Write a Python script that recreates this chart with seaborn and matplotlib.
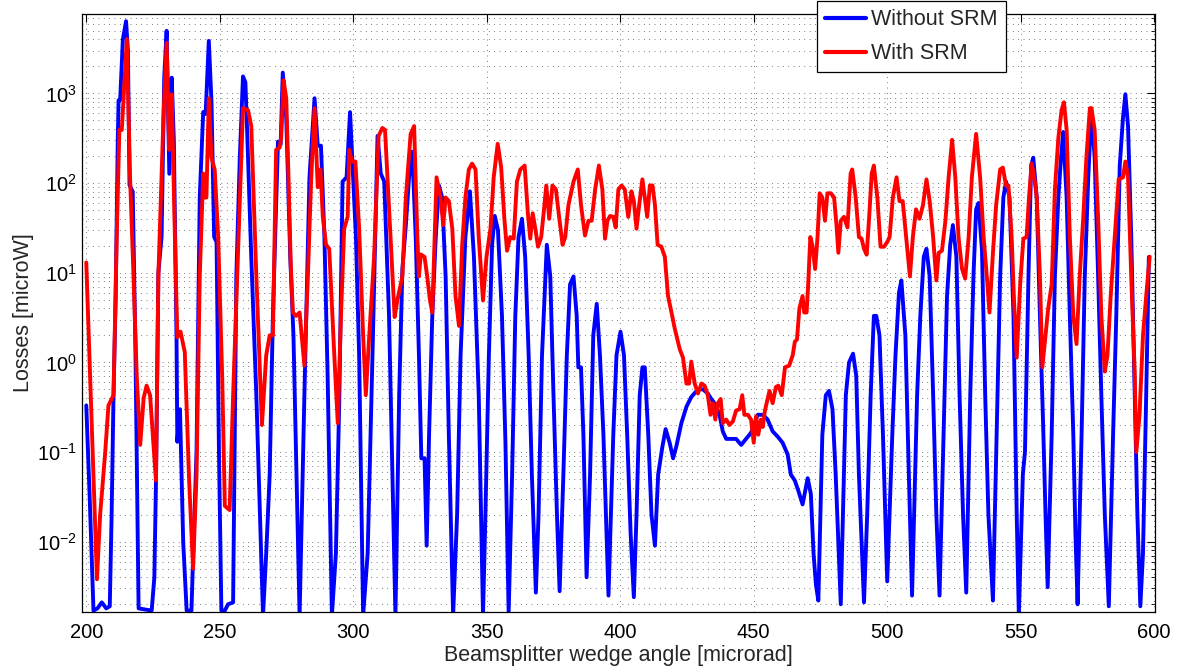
import numpy as np
import pandas as pd
import matplotlib
matplotlib.use("Agg")
import matplotlib.pyplot as plt
import seaborn as sns
from matplotlib.ticker import FixedLocator, NullFormatter, LogFormatterSciNotation
from matplotlib.lines import Line2D

# ---------------- data ----------------
blue_x = [200.0, 201.3, 202.7, 204.2, 205.8, 207.5, 208.8, 209.5, 210.2, 211.0, 211.8, 212.1, 212.7, 213.7,
          214.9, 215.6, 216.2, 217.4, 218.4, 219.0, 219.6, 224.5, 225.5, 226.1, 227.0, 228.2, 229.2, 230.1,
          231.1, 232.0, 232.8, 233.8, 234.1, 235.1, 236.3, 237.6, 239.4, 240.05, 241.3, 242.5, 243.8, 244.7,
          245.9, 246.9, 247.9, 248.8, 249.7, 250.6, 251.9, 253.1, 255.0, 256.2, 257.5, 258.7, 259.6, 260.3,
          261.8, 263.7, 266.2, 267.4, 268.7, 269.9, 271.8, 272.8, 273.6, 274.9, 276.4, 277.6, 279.9, 281.7,
          283.6, 285.5, 286.7, 287.9, 289.2, 290.4, 292.0, 293.5, 294.8, 296.0, 297.5, 298.8, 299.8, 301.0,
          302.2, 303.7, 305.4, 307.2, 309.1, 310.3, 311.6, 313.4, 315.8, 317.2, 318.4, 319.7, 320.9, 322.1,
          323.4, 324.6, 325.5, 326.7, 327.5, 328.4, 329.6, 330.9, 332.1, 333.3, 334.6, 335.8, 337.4, 338.9,
          340.2, 342.0, 343.7, 345.2, 347.0, 348.6, 349.5, 350.8, 352.0, 353.0, 354.2, 355.7, 357.0, 358.2,
          359.5, 360.7, 361.9, 363.2, 364.4, 365.7, 366.9, 368.4, 369.4, 370.7, 372.5, 373.8, 375.0, 376.3,
          377.3, 378.7, 380.0, 381.2, 382.5, 383.7, 384.3, 385.3, 386.2, 387.4, 388.7, 389.9, 391.2, 392.4,
          393.7, 395.6, 397.4, 398.6, 400.1, 401.4, 402.6, 403.9, 405.1, 406.1, 407.3, 408.3, 409.2, 410.5,
          411.7, 413.0, 414.2, 415.8, 417.0, 418.5, 419.8, 421.0, 422.9, 424.8, 426.6, 429.1, 431.0, 432.8,
          434.1, 435.3, 437.2, 438.4, 439.7, 441.5, 443.4, 445.3, 447.1, 449.0, 451.5, 453.4, 455.2, 457.1,
          459.0, 460.8, 462.7, 463.9, 465.4, 466.7, 468.3, 470.2, 471.4, 472.4, 473.3, 474.2, 475.7, 477.0,
          478.2, 479.5, 480.7, 482.6, 483.8, 484.5, 485.7, 487.2, 488.4, 489.4, 491.3, 492.5, 493.8, 495.0,
          495.9, 497.1, 498.4, 500.0, 501.9, 503.1, 504.4, 505.3, 506.8, 508.1, 509.3, 511.2, 512.4, 513.7,
          514.7, 515.9, 517.2, 518.4, 519.6, 521.1, 522.4, 523.6, 524.6, 525.9, 527.1, 528.4, 529.6, 531.1,
          532.3, 533.3, 534.2, 535.5, 536.7, 537.9, 539.6, 541.0, 542.3, 543.5, 544.5, 545.8, 547.3, 548.5,
          549.3, 550.8, 551.6, 552.9, 553.9, 554.7, 556.0, 557.2, 558.5, 559.3, 560.1, 561.6, 562.8, 564.1,
          565.1, 565.9, 567.2, 568.4, 569.7, 570.5, 571.3, 572.8, 574.0, 575.3, 576.5, 577.7, 579.0, 580.2,
          581.5, 583.0, 584.6, 585.8, 587.1, 588.3, 589.2, 590.2, 591.4, 592.7, 593.7, 594.8, 595.8, 597.0,
          598.0]
blue_y = [0.33, 0.03, 0.0017, 0.0018, 0.0021, 0.0018, 0.0019, 0.02, 0.43, 5, 300, 840, 850, 4000,
          6400, 3000, 95, 80, 1.5, 0.05, 0.0018, 0.0017, 0.004, 0.045, 10, 25, 1500, 5000,
          127, 1500, 300, 1.9, 0.13, 0.3, 0.01, 0.0017, 0.0017, 0.0074, 0.1, 69, 620, 590,
          3860, 800, 25, 22, 0.1, 0.0017, 0.0017, 0.0020, 0.0021, 9, 190, 1550, 1330, 350,
          15, 0.43, 0.0015, 0.0074, 0.056, 3.3, 290, 270, 1710, 531, 15, 2.0, 0.0015, 0.43,
          116, 884, 261, 261, 25, 0.71, 0.0015, 0.0074, 0.43, 104, 116, 619, 142, 25,
          1.2, 0.0015, 0.0074, 1.2, 336, 128, 104, 3.3, 0.0015, 0.43, 11, 34, 116, 224,
          25, 1.2, 0.085, 0.085, 0.009, 0.156, 3.3, 25, 94, 69, 9.1, 0.156, 0.0015, 0.02,
          1.2, 25, 81, 15, 0.43, 0.0015, 0.02, 1.2, 20.5, 43, 30, 3.3, 0.13, 0.0016,
          0.056, 3.3, 25, 40, 15, 1.2, 0.056, 0.0027, 0.02, 1.2, 20.5, 9.1, 0.43, 0.02,
          0.0028, 0.056, 1.2, 7.4, 9.1, 3.3, 0.88, 0.88, 0.156, 0.004, 0.056, 2.0, 4.5, 1.2,
          0.156, 0.0025, 0.156, 1.2, 2.2, 1.2, 0.156, 0.0122, 0.0024, 0.02, 0.43, 0.88, 0.88, 0.156,
          0.02, 0.009, 0.056, 0.115, 0.18, 0.127, 0.085, 0.115, 0.21, 0.32, 0.41, 0.50, 0.50, 0.45,
          0.39, 0.35, 0.26, 0.17, 0.14, 0.14, 0.14, 0.12, 0.14, 0.164, 0.26, 0.26, 0.23, 0.17,
          0.148, 0.127, 0.094, 0.056, 0.048, 0.037, 0.026, 0.051, 0.034, 0.0074, 0.0033, 0.0022, 0.156, 0.43,
          0.48, 0.30, 0.056, 0.002, 0.056, 0.43, 1.0, 1.25, 0.71, 0.056, 0.0021, 0.02, 0.43, 3.3,
          3.3, 2.0, 0.156, 0.0036, 0.156, 1.2, 6.0, 8.2, 2.0, 0.056, 0.0025, 0.43, 3.3, 15.1,
          18.5, 9.1, 0.43, 0.02, 0.0025, 0.156, 5.5, 20.5, 34, 15.1, 0.43, 0.02, 0.0027, 0.43,
          9.1, 51, 60, 17.6, 0.43, 0.02, 0.0022, 0.156, 9.1, 69, 104, 69, 3.3, 0.02,
          0.0015, 0.056, 0.1, 9.1, 157, 192, 69, 3.3, 0.156, 0.02, 0.0031, 0.156, 9.1, 69,
          192, 372, 69, 3.3, 0.156, 0.0122, 0.002, 0.156, 9.1, 116, 651, 192, 9.1, 0.43,
          0.02, 0.0019, 0.156, 3.3, 157, 531, 980, 433, 25, 0.43, 0.02, 0.0019, 0.0074, 0.43,
          15]

red_x = [200.0, 204.0, 205.2, 207.1, 208.3, 210.2, 211.4, 212.4, 213.3, 215.2, 216.4, 217.7, 218.9, 220.2,
         221.5, 222.6, 223.9, 226.1, 227.0, 228.9, 230.1, 231.1, 232.0, 233.2, 234.1, 235.3, 236.9, 238.5,
         240.0, 241.3, 242.5, 243.8, 244.4, 245.0, 245.9, 246.9, 248.1, 249.4, 250.9, 251.9, 253.7, 255.0,
         256.8, 258.7, 260.6, 261.8, 263.7, 265.8, 267.4, 268.7, 269.9, 271.1, 272.4, 273.0, 273.9, 274.9,
         275.8, 276.6, 277.4, 278.6, 279.9, 281.7, 283.0, 284.2, 285.5, 286.7, 287.7, 288.6, 289.8, 291.0,
         292.9, 294.2, 295.4, 296.6, 297.9, 298.5, 299.5, 300.8, 302.2, 303.7, 304.7, 306.0, 307.8, 309.5,
         310.9, 311.9, 313.2, 314.7, 315.5, 316.5, 318.4, 319.7, 321.5, 322.8, 324.0, 324.6, 325.3, 326.7,
         327.7, 328.7, 329.6, 330.5, 331.2, 332.7, 333.7, 334.6, 335.8, 337.1, 338.3, 339.6, 340.8, 342.0,
         343.3, 344.5, 345.8, 347.0, 348.6, 349.9, 351.4, 352.6, 354.1, 355.4, 356.6, 357.6, 358.8, 360.1,
         361.3, 362.6, 364.2, 365.4, 366.3, 367.2, 368.2, 369.2, 370.4, 371.3, 372.3, 373.4, 374.6, 375.9,
         377.1, 378.4, 379.4, 380.6, 382.5, 384.1, 385.3, 386.8, 388.1, 389.3, 390.6, 392.0, 393.3, 394.3,
         395.2, 396.2, 397.4, 398.3, 399.3, 400.5, 401.7, 403.0, 404.2, 405.1, 406.1, 407.1, 408.3, 409.2,
         410.1, 411.1, 412.1, 413.0, 414.0, 415.4, 416.7, 417.9, 419.2, 420.4, 422.3, 423.5, 424.8, 425.8,
         426.6, 427.9, 429.1, 430.4, 431.6, 432.8, 433.8, 434.7, 435.6, 436.6, 437.6, 438.4, 439.7, 440.9,
         442.2, 443.4, 444.7, 445.7, 446.5, 447.8, 449.0, 450.0, 450.9, 451.7, 452.7, 453.4, 454.2, 455.9,
         457.1, 458.3, 459.2, 460.5, 461.7, 463.3, 464.6, 465.4, 466.2, 467.1, 468.3, 468.9, 469.8, 470.4,
         471.2, 472.0, 473.0, 473.9, 474.7, 475.7, 476.7, 477.6, 478.9, 480.1, 481.0, 481.7, 482.6, 483.8,
         485.1, 486.3, 486.9, 488.2, 489.4, 490.4, 491.3, 492.3, 493.2, 494.2, 495.0, 496.3, 497.5, 498.8,
         500.0, 500.9, 502.1, 503.5, 504.6, 505.8, 507.1, 508.5, 509.6, 510.8, 512.1, 513.4, 514.7, 515.9,
         517.2, 518.4, 519.3, 520.5, 521.8, 523.0, 524.3, 525.5, 526.7, 528.0, 529.2, 530.5, 531.7, 533.3,
         534.8, 536.1, 537.3, 538.3, 539.6, 540.8, 542.3, 543.3, 544.5, 545.4, 546.6, 547.5, 548.5, 549.8,
         551.0, 552.2, 553.1, 554.1, 555.1, 556.0, 557.2, 558.1, 559.3, 560.3, 561.6, 562.8, 564.1, 565.3,
         566.2, 567.2, 568.4, 569.7, 570.9, 572.1, 573.4, 574.6, 575.9, 576.5, 577.7, 579.0, 580.2, 581.5,
         582.5, 583.7, 585.2, 586.7, 588.3, 589.2, 590.2, 591.4, 592.7, 593.3, 594.5, 595.8, 597.0, 598.3]
red_y = [13, 0.0038, 0.02, 0.1, 0.33, 0.43, 25, 392, 392, 4060, 116, 9.1, 0.71, 0.12,
         0.4, 0.55, 0.43, 0.048, 9.1, 531, 3670, 235, 980, 25, 1.9, 2.2, 1.3, 0.05,
         0.005, 0.056, 9.1, 128, 69, 69, 884, 192, 142, 25, 0.71, 0.025, 0.0225, 0.43,
         15.1, 685, 651, 433, 9.1, 0.20, 1.2, 2.0, 2.0, 235, 248, 319, 1400, 884,
         100, 12, 3.6, 3.3, 3.6, 0.92, 9.1, 104, 685, 90, 142, 42, 20.5, 18.5,
         1.2, 0.21, 3.3, 31, 42, 235, 174, 174, 31, 2.0, 0.43, 2.0, 15, 336,
         412, 392, 69, 9.1, 3.2, 4.9, 9.1, 69, 354, 433, 25, 9.1, 16, 15,
         9.1, 5, 3.6, 25, 116, 69, 34, 69, 63, 31, 5.5, 2.55, 20.5, 69,
         142, 165, 142, 25, 4.9, 15, 31, 116, 274, 150, 40, 17.6, 25, 24,
         104, 142, 157, 46, 24, 46, 31, 19.5, 25, 46, 94, 40, 94, 85,
         42, 20.5, 25, 57, 104, 142, 57, 26, 38, 38, 85, 157, 85, 24,
         38, 43, 42, 32, 85, 94, 85, 42, 81, 63, 31, 57, 110, 69,
         42, 94, 94, 57, 20.5, 19.5, 15.1, 5.5, 3.6, 2.4, 1.4, 1.13, 0.58, 0.58,
         1.02, 0.58, 0.45, 0.58, 0.55, 0.43, 0.26, 0.35, 0.23, 0.35, 0.39, 0.21, 0.23, 0.20,
         0.22, 0.29, 0.30, 0.43, 0.26, 0.26, 0.23, 0.127, 0.25, 0.156, 0.23, 0.19, 0.29, 0.48,
         0.35, 0.53, 0.55, 0.43, 0.88, 0.92, 1.2, 1.7, 1.8, 4.0, 5.5, 3.6, 3.6, 7.4,
         25, 20, 11, 25, 77, 69, 38, 77, 77, 69, 34, 16.7, 38, 42,
         32, 128, 142, 69, 25, 24, 18.5, 15.9, 40, 128, 157, 69, 19.5, 19.5,
         22, 25, 69, 116, 63, 63, 25, 9.1, 25, 51, 40, 57, 110, 63,
         25, 8.2, 16.7, 17.6, 38, 116, 304, 116, 25, 11.1, 8.6, 25, 116, 354,
         116, 25, 9.1, 3.6, 16.7, 57, 142, 149, 94, 94, 25, 4.9, 1.13, 7.4,
         24, 25, 69, 165, 116, 69, 9.1, 0.88, 2.0, 4.0, 7.4, 85, 319, 651,
         798, 392, 25, 3.3, 1.6, 9.1, 40, 192, 685, 685, 392, 40, 3.3, 0.79,
         1.2, 5.5, 25, 110, 116, 174, 116, 9.1, 0.75, 0.10, 0.26, 2.0, 5.5, 15.1]

series_names = ["Without SRM", "With SRM"]
x_ticks = [200, 250, 300, 350, 400, 450, 500, 550, 600]
y_decades = [1e-2, 1e-1, 1e0, 1e1, 1e2, 1e3]
x_label = "Beamsplitter wedge angle [microrad]"
y_label = "Losses [microW]"

# ---------------- styling ----------------
sns.set_style("white")
plt.rcParams['font.family'] = ['Liberation Sans', 'DejaVu Sans']
plt.rcParams['mathtext.fontset'] = 'custom'
plt.rcParams['mathtext.rm'] = 'Liberation Sans'
plt.rcParams['mathtext.it'] = 'Liberation Sans'
plt.rcParams['mathtext.default'] = 'regular'

df = pd.concat([
    pd.DataFrame({"angle": blue_x, "loss": blue_y, "series": series_names[0]}),
    pd.DataFrame({"angle": red_x, "loss": red_y, "series": series_names[1]}),
], ignore_index=True)

fig = plt.figure(figsize=(11.84, 6.71), dpi=100)
ax = fig.add_axes([82 / 1184, 1 - 612 / 671, (1155 - 82) / 1184, (612 - 14) / 671])

palette = {series_names[0]: "#0000ff", series_names[1]: "#ff0000"}
sns.lineplot(data=df, x="angle", y="loss", hue="series", palette=palette,
             estimator=None, sort=False, linewidth=2.8, ax=ax, legend=False)
for ln in ax.get_lines():
    ln.set_solid_joinstyle("round")

ax.set_yscale("log")
ax.set_xlim(198.4, 600.3)
ax.set_ylim(0.00164, 7700)

ax.xaxis.set_major_locator(FixedLocator(x_ticks))
ax.yaxis.set_major_locator(FixedLocator(y_decades))
ax.yaxis.set_major_formatter(LogFormatterSciNotation())
minor_vals = [m * d for d in [1e-3, 1e-2, 1e-1, 1e0, 1e1, 1e2, 1e3] for m in range(2, 10)
              if 0.00164 <= m * d <= 7700]
ax.yaxis.set_minor_locator(FixedLocator(minor_vals))
ax.yaxis.set_minor_formatter(NullFormatter())

grid_kw = dict(color="#303030", linestyle=(0, (1, 6)), linewidth=0.55)
ax.grid(True, which="major", axis="both", **grid_kw)
ax.grid(True, which="minor", axis="y", **grid_kw)

ax.tick_params(axis="both", which="both", direction="in", top=True, right=True,
               labelsize=14.5, colors="black")
ax.tick_params(which="major", length=6, width=0.8)
ax.tick_params(which="minor", length=3, width=0.6)
ax.tick_params(axis="x", pad=8)

for sp in ax.spines.values():
    sp.set_visible(True)
    sp.set_color("black")
    sp.set_linewidth(0.9)

ax.set_xlabel(x_label, fontsize=15.5, labelpad=2)
ax.set_ylabel(y_label, fontsize=15.5, labelpad=2)

handles = [Line2D([0], [0], color=palette[s], lw=3) for s in series_names]
leg = fig.legend(handles, series_names, loc="upper left",
                 bbox_to_anchor=(817 / 1184, 1 - 1 / 671), frameon=True, fancybox=False,
                 edgecolor="black", framealpha=1, fontsize=15.5, handlelength=1.9,
                 handletextpad=0.25, labelspacing=0.6, borderpad=0.38, borderaxespad=0)
leg.get_frame().set_linewidth(0.9)

fig.savefig("out.png", dpi=100, facecolor="white")
